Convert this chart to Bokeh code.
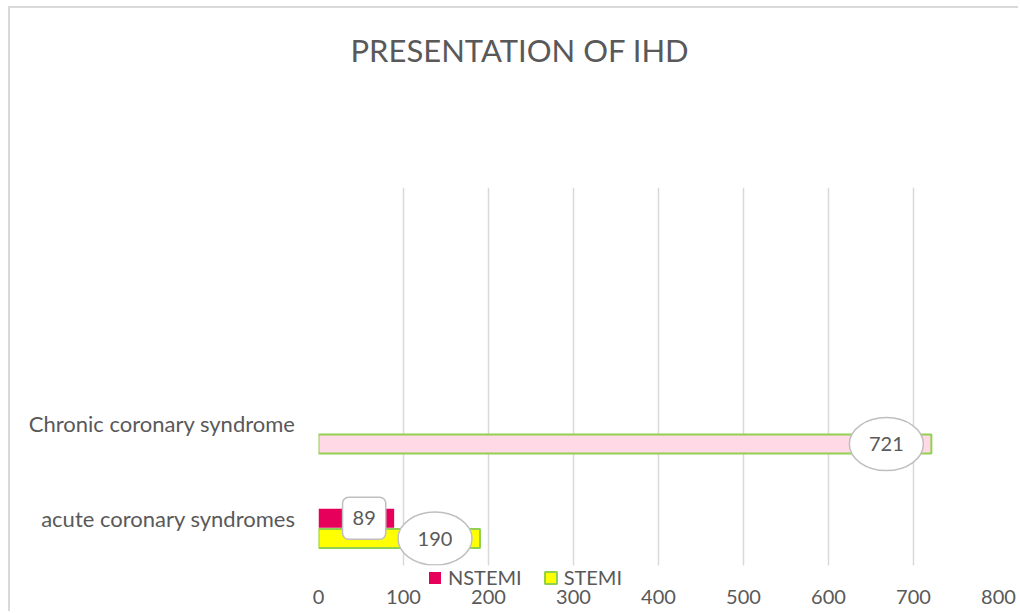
from bokeh.plotting import figure
from bokeh.models import (ColumnDataSource, FixedTicker, Legend, LegendItem,
                          Title, Range1d, BoxAnnotation)
from bokeh.transform import dodge
from bokeh.core.properties import value
from bokeh.embed import file_html
from bokeh.resources import INLINE

# ---- data -------------------------------------------------------------
title_text = "PRESENTATION OF IHD"
categories = ["acute coronary syndromes", "Chronic coronary syndrome"]
n_rows = 4                         # two empty category rows above the bars
series_names = ["NSTEMI", "STEMI"]
nstemi = [89, float("nan")]
stemi = [190, 721]
x_ticks = [0, 100, 200, 300, 400, 500, 600, 700, 800]

# ---- styles -----------------------------------------------------------
FONT = "Lato"
TXT = "#595959"
RED = "#E6005C"
YELLOW = "#FFFF00"
PINK = "#FFD9E6"
GREEN = "#92D050"
GRID = "#D9D9D9"
LBL_BORDER = "#BFBFBF"
stemi_fills = [YELLOW, PINK]

PX_PER_X = 680 / 800.0
PX_PER_ROW = 94.5
LEGEND_BAND = 24 / PX_PER_ROW      # strip under the bars that holds the legend

cat_pos = [i + 0.5 for i in range(len(categories))]

p = figure(width=1010, height=605,
           y_range=Range1d(-LEGEND_BAND, n_rows),
           x_range=Range1d(0, 800),
           output_backend="svg", toolbar_location=None,
           min_border_left=308, min_border_right=22,
           min_border_top=179, min_border_bottom=24)
p.styles = {"margin-left": "10px", "margin-top": "8px",
            "box-shadow": "-2px -2px 0px 0px #D9D9D9"}

p.title = Title(text=title_text, align="left", offset=32,
                text_font=FONT, text_font_size="31px", text_font_style="normal",
                text_color=TXT, standoff=0,
                padding={"left": 0, "right": 0, "top": 0, "bottom": 119})

src = ColumnDataSource(dict(pos=cat_pos, nstemi=nstemi, stemi=stemi,
                            stemi_fill=stemi_fills,
                            stemi_lbl=[str(v) for v in stemi]))
n_idx = [i for i, v in enumerate(nstemi) if v == v]
nsrc = ColumnDataSource(dict(pos=[cat_pos[i] for i in n_idx],
                             nstemi=[nstemi[i] for i in n_idx],
                             lbl=[str(nstemi[i]) for i in n_idx]))

r1 = p.hbar(y=dodge("pos", 0.0), left=0, right="nstemi",
            height=0.2, fill_color=RED, line_color=None, source=src)
r2 = p.hbar(y=dodge("pos", -0.215), left=0, right="stemi",
            height=0.2, fill_color="stemi_fill", line_color=GREEN,
            line_width=2, source=src)

# data labels
p.ellipse(x=dodge("stemi", -45 / PX_PER_X, range=p.x_range),
          y=dodge("pos", -0.215),
          width=74, height=53, width_units="screen", height_units="screen",
          fill_color="white", line_color=LBL_BORDER, line_width=1.5, source=src)
p.text(x="stemi", y=dodge("pos", -0.215), text="stemi_lbl",
       x_offset=-45, text_align="center", text_baseline="middle",
       text_font=value(FONT), text_font_size="20px", text_color=TXT, source=src)

p.text(x="nstemi", y=dodge("pos", 0.0), text="lbl",
       x_offset=-30, text_align="center", text_baseline="middle",
       text_font=value(FONT), text_font_size="20px", text_color=TXT,
       background_fill_color="white", border_line_color=LBL_BORDER,
       border_line_width=1.5, border_radius=6,
       padding={"left": 10, "right": 10, "top": 14, "bottom": 14}, source=nsrc)

# hide the grid lines inside the legend strip
p.add_layout(BoxAnnotation(top=0, fill_color="white", fill_alpha=1.0,
                           line_color=None, line_alpha=0))

legend = Legend(items=[LegendItem(label=series_names[0], renderers=[r1], index=0),
                       LegendItem(label=series_names[1], renderers=[r2], index=0)],
                orientation="horizontal", location=(109, 0),
                background_fill_alpha=0, border_line_color=None,
                padding=0, margin=0, spacing=21, label_standoff=6,
                glyph_width=15, glyph_height=15, label_height=15,
                label_text_font=FONT, label_text_font_size="20px",
                label_text_color=TXT)
p.add_layout(legend)

p.xaxis.ticker = FixedTicker(ticks=x_ticks)
p.yaxis.ticker = FixedTicker(ticks=cat_pos)
p.yaxis.major_label_overrides = {pos: name for pos, name in zip(cat_pos, categories)}
for ax in (p.xaxis, p.yaxis):
    ax.axis_line_color = None
    ax.major_tick_line_color = None
    ax.minor_tick_line_color = None
    ax.major_label_text_font = FONT
    ax.major_label_text_color = TXT
p.xaxis.major_label_text_font_size = "20px"
p.xaxis.major_label_standoff = -6
p.yaxis.major_label_text_font_size = "22px"
p.yaxis.major_label_standoff = 17

p.ygrid.grid_line_color = None
p.xgrid.grid_line_color = GRID
p.xgrid.grid_line_width = 1.5
p.outline_line_color = None
p.background_fill_color = "white"
p.border_fill_color = "white"

open("out.html", "w").write(file_html(p, INLINE))
